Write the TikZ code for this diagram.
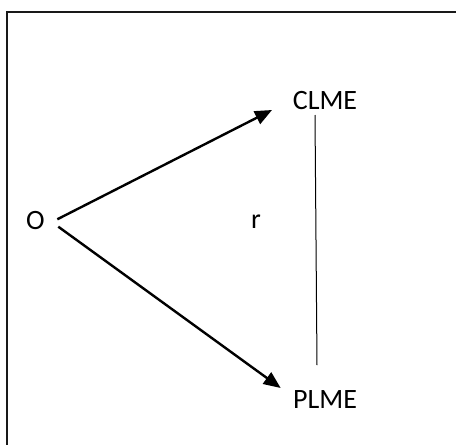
\documentclass[tikz,border=0pt]{standalone}
\usepackage{fontspec}
\setmainfont{Carlito}
\usetikzlibrary{arrows.meta}
\begin{document}
\begin{tikzpicture}[x=1pt,y=-1pt,
  lbl/.style={inner sep=0pt, font=\fontsize{28}{30}\selectfont},
  arr/.style={line width=2.4pt, -{Triangle[length=17pt,width=14pt]}},
  thin/.style={line width=1pt}]
\useasboundingbox (0,0) rectangle (456,445);
\draw[line width=2pt, color=black!90] (6.5,445) -- (6.5,11.5) -- (456,11.5);
\node[lbl] (O) at (35.5,220.5) {O};
\node[lbl] (CLME) at (325,100.5) {CLME};
\node[lbl] (PLME) at (325,400) {PLME};
\node[lbl] (r) at (256,222) {r};
\draw[arr] ([shift={(21.8,-1.2)}]O.center) -- ([shift={(-53,9.5)}]CLME.center);
\draw[arr] ([shift={(22.8,6.2)}]O.center) -- ([shift={(-44.3,-12)}]PLME.center);
\draw[thin] ([shift={(-10,14.5)}]CLME.center) -- ([shift={(-8,-35)}]PLME.center);
\end{tikzpicture}
\end{document}
